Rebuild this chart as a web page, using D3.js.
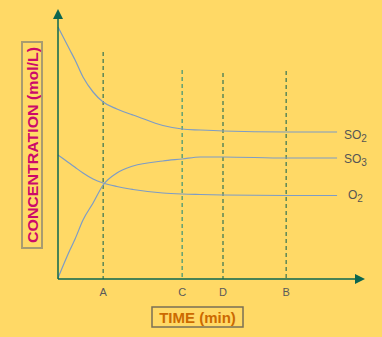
<!DOCTYPE html>
<html>
<head>
  <meta charset="utf-8" />
  <script src="https://d3js.org/d3.v7.min.js"></script>
  <style>
    body{margin:0;background:#FFD966;}
    svg{display:block;font-family:"Liberation Sans",Arial,sans-serif;}
  </style>
</head>
<body>
<script>
// time (min, arbitrary) and concentration (mol/L, arbitrary)
var times   = [0, 0.39, 0.56, 0.82, 1.15, 1.48, 1.93, 2.36, 2.46, 3.44, 4.07, 4.66, 5.41, 7.48, 9.15];
var so2     = [2.52, 2.29, 2.19, 2.02, 1.87, 1.77, 1.70, 1.65, 1.64, 1.535, 1.50, 1.49, 1.48, 1.47, 1.47];
var so3     = [0.01, 0.29, 0.40, 0.59, 0.76, 0.94, 1.06, 1.12, 1.13, 1.18, 1.20, 1.22, 1.22, 1.21, 1.21];
var o2      = [1.24, 1.155, 1.117, 1.06, 1.00, 0.96, 0.925, 0.90, 0.895, 0.86, 0.85, 0.845, 0.84, 0.835, 0.835];
var tickNames = ["A", "C", "D", "B"];
var tickTimes = [1.48, 4.07, 5.41, 7.48];
var tickTops  = [2.27, 2.09, 2.06, 2.08];
var tickColors = ["#0b5e4f", "#12857a", "#0b5e4f", "#0b5e4f"];
var seriesNames = ["SO|2", "SO|3", "O|2"];

var W = 382, H = 337;
var svg = d3.select("body").append("svg").attr("width", W).attr("height", H);
svg.append("rect").attr("width", W).attr("height", H).attr("fill", "#FFD966");

var x = d3.scaleLinear().domain([0, 10]).range([58, 363]);
var y = d3.scaleLinear().domain([0, 2.7]).range([279, 9]);
var axisCol = "#0b6650";

//dashed time markers
svg.selectAll(".mark").data(tickTimes).enter().append("line")
  .attr("x1", function(d){return x(d)}).attr("x2", function(d){return x(d)})
  .attr("y1", function(d,i){return y(tickTops[i])}).attr("y2", y(0))
  .attr("stroke", function(d,i){return tickColors[i]}).attr("stroke-width", 1)
  .attr("stroke-dasharray", "4,3");

//tick labels
svg.selectAll(".tl").data(tickNames).enter().append("text")
  .attr("x", function(d,i){return x(tickTimes[i])}).attr("y", 296)
  .attr("text-anchor", "middle").attr("font-size", "11px").attr("fill", "#5a5a5a")
  .text(function(d){return d});

//curves
var line = d3.line().x(function(d){return x(d[0])}).y(function(d){return y(d[1])}).curve(d3.curveMonotoneX);
[so2, so3, o2].forEach(function(s){
  svg.append("path").datum(times.map(function(t,i){return [t, s[i]]}))
    .attr("d", line).attr("fill", "none").attr("stroke", "#7d9cc6").attr("stroke-width", 1.2);
});

//series labels
var labelX = [344, 344, 348], labelY = [139, 163, 199];
seriesNames.forEach(function(n, i){
  var p = n.split("|");
  var t = svg.append("text").attr("x", labelX[i]).attr("y", labelY[i])
    .attr("font-size", "12px").attr("fill", "#555");
  t.append("tspan").text(p[0]);
  t.append("tspan").attr("dy", 3).attr("font-size", "10px").text(p[1]);
});

//axes with arrows
svg.append("line").attr("x1", x(0)).attr("x2", x(0)).attr("y1", y(0)).attr("y2", 16)
  .attr("stroke", axisCol).attr("stroke-width", 1.5);
svg.append("path").attr("d", "M" + x(0) + ",9 L" + (x(0)-5) + ",19 L" + (x(0)+5) + ",19 Z").attr("fill", axisCol);
svg.append("line").attr("x1", x(0)).attr("x2", 357).attr("y1", y(0)).attr("y2", y(0))
  .attr("stroke", axisCol).attr("stroke-width", 1.5);
svg.append("path").attr("d", "M365," + y(0) + " L355," + (y(0)-5) + " L355," + (y(0)+5) + " Z").attr("fill", axisCol);

//y title
svg.append("rect").attr("x", 22).attr("y", 42).attr("width", 20).attr("height", 206)
  .attr("fill", "none").attr("stroke", "#a89c70").attr("stroke-width", 2);
svg.append("text").attr("transform", "translate(37.5,145) rotate(-90)")
  .attr("text-anchor", "middle").attr("font-size", "15px").attr("font-weight", "bold")
  .attr("textLength", 196).attr("lengthAdjust", "spacingAndGlyphs")
  .attr("fill", "#cc0a6a").text("CONCENTRATION (mol/L)");

//x title
svg.append("rect").attr("x", 152).attr("y", 307).attr("width", 91).attr("height", 20)
  .attr("fill", "none").attr("stroke", "#7a6f55").attr("stroke-width", 1.5);
svg.append("text").attr("x", 197.5).attr("y", 323)
  .attr("text-anchor", "middle").attr("font-size", "15px").attr("font-weight", "bold")
  .attr("fill", "#cc6a00").text("TIME (min)");
</script>
</body>
</html>
